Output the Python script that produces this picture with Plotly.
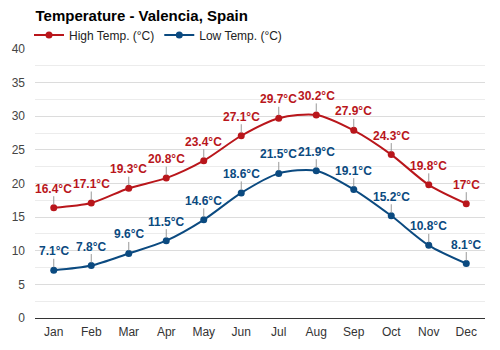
import plotly.graph_objects as go

months = ["Jan", "Feb", "Mar", "Apr", "May", "Jun", "Jul", "Aug", "Sep", "Oct", "Nov", "Dec"]
high = [16.4, 17.1, 19.3, 20.8, 23.4, 27.1, 29.7, 30.2, 27.9, 24.3, 19.8, 17]
low = [7.1, 7.8, 9.6, 11.5, 14.6, 18.6, 21.5, 21.9, 19.1, 15.2, 10.8, 8.1]
y_ticks = [0, 5, 10, 15, 20, 25, 30, 35, 40]

RED = "#b9161b"
BLUE = "#0b4a80"
FONT = "Liberation Sans, Arial, sans-serif"

fig = go.Figure()
fig.add_trace(go.Scatter(x=months, y=high, mode="lines+markers", name="High Temp. (°C)",
                         line=dict(color=RED, width=2, shape="spline", smoothing=0.8),
                         marker=dict(color=RED, size=7)))
fig.add_trace(go.Scatter(x=months, y=low, mode="lines+markers", name="Low Temp. (°C)",
                         line=dict(color=BLUE, width=2, shape="spline", smoothing=0.8),
                         marker=dict(color=BLUE, size=7)))

def fmt(v):
    return "<b>" + f"{v:g}" + "°C</b>"

annotations = []
for series, color in ((high, RED), (low, BLUE)):
    for m, v in zip(months, series):
        annotations.append(dict(x=m, y=v, xref="x", yref="y", text=fmt(v), showarrow=True,
                                ax=0, ay=-19, arrowhead=0, arrowwidth=1, arrowcolor="#999999",
                                font=dict(family=FONT, size=12, color=color),
                                borderpad=0, standoff=3))

fig.update_layout(
    width=500, height=350,
    margin=dict(l=35, r=15, t=49, b=32, autoexpand=False),
    paper_bgcolor="white", plot_bgcolor="white",
    font=dict(family=FONT, size=12, color="#444444"),
    title=dict(text="<b>Temperature - Valencia, Spain</b>", xref="container", x=0.071, xanchor="left",
               yref="container", y=0.956, yanchor="middle", pad=dict(l=0, r=0, t=0, b=0),
               font=dict(family=FONT, size=15, color="#000000")),
    legend=dict(orientation="h", xref="container", x=0.058, xanchor="left",
                yref="container", y=0.9, yanchor="middle",
                font=dict(family=FONT, size=12, color="#222222"), itemwidth=30,
                bgcolor="rgba(0,0,0,0)"),
    annotations=annotations,
    showlegend=True,
)
fig.update_xaxes(range=[-0.5, 11.5], showgrid=False, ticks="", tickfont=dict(size=12, color="#333333"),
                 showline=False, zeroline=False, automargin=False, ticklabelstandoff=5)
fig.update_yaxes(range=[0, 40], tickvals=y_ticks, gridcolor="#dcdcdc", gridwidth=1,
                 zeroline=True, zerolinecolor="#333333", zerolinewidth=1,
                 minor=dict(dtick=2.5, showgrid=True, gridcolor="#ececec", gridwidth=1),
                 tickfont=dict(size=12, color="#444444"), ticks="", ticklabelstandoff=9,
                 automargin=False)

fig.write_html("out.html")
